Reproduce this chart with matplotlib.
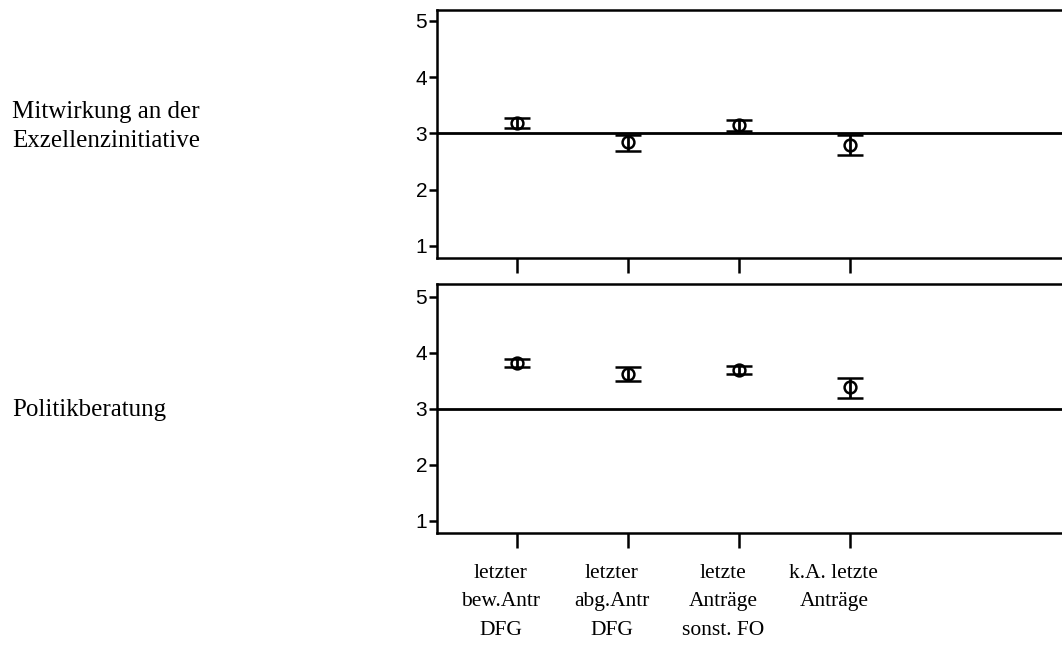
import numpy as np
import matplotlib
matplotlib.use('Agg')
import matplotlib.pyplot as plt
from matplotlib.transforms import ScaledTranslation

# ---- data ----
categories = ['letzter\nbew.Antr\nDFG', 'letzter\nabg.Antr\nDFG',
              'letzte\nAnträge\nsonst. FO', 'k.A. letzte\nAnträge']
row_labels = ['Mitwirkung an der\nExzellenzinitiative', 'Politikberatung']

exz_mean = [3.18, 2.84, 3.15, 2.80]
exz_lo   = [3.09, 2.69, 3.05, 2.61]
exz_hi   = [3.27, 2.97, 3.24, 2.97]

pol_mean = [3.82, 3.62, 3.70, 3.38]
pol_lo   = [3.74, 3.50, 3.62, 3.20]
pol_hi   = [3.89, 3.74, 3.77, 3.55]

yticks   = [1, 2, 3, 4, 5]
ref_line = 3

W, H = 1062, 646
fig = plt.figure(figsize=(W/100, H/100), dpi=100)

serif = ['Liberation Serif', 'DejaVu Serif']
x = np.arange(len(categories))

def panel(rect, mean, lo, hi, ylim, show_labels):
    ax = fig.add_axes(rect)
    mean = np.array(mean); lo = np.array(lo); hi = np.array(hi)
    ax.axhline(ref_line, color='k', lw=2, zorder=1)
    ax.errorbar(x, mean, yerr=[mean - lo, hi - mean], fmt='o', ms=8.5,
                mfc='none', mec='k', mew=1.8, ecolor='k', elinewidth=2,
                capsize=9.7, capthick=2, zorder=3)
    ax.set_xlim(-0.718, 4.91)
    ax.set_ylim(*ylim)
    ax.set_yticks(yticks)
    ax.set_xticks(x)
    for s in ['left', 'bottom', 'top']:
        ax.spines[s].set_linewidth(1.8)
    ax.spines['right'].set_visible(False)
    ax.tick_params(axis='y', length=6, width=1.8, labelsize=15, pad=1)
    ax.tick_params(axis='x', length=11, width=1.8, pad=11)
    for t in ax.get_yticklabels():
        t.set_fontfamily(['Liberation Sans', 'DejaVu Sans'])
    if show_labels:
        ax.set_xticklabels(categories, fontsize=15.5, family=serif)
        off = ScaledTranslation(-16/100, 0, fig.dpi_scale_trans)
        for t in ax.get_xticklabels():
            t.set_linespacing(1.68)
            t.set_transform(t.get_transform() + off)
    else:
        ax.set_xticklabels([])
    return ax

panel([437/W, 1 - 258/H, 1 - 437/W, 248.5/H], exz_mean, exz_lo, exz_hi,
      (0.786, 5.204), False)
panel([437/W, 1 - 533.3/H, 1 - 437/W, 248.8/H], pol_mean, pol_lo, pol_hi,
      (0.775, 5.218), True)

fig.text(12/W, 1 - 126.7/H, row_labels[0], fontsize=18, family=serif,
         va='center', ha='left', linespacing=1.4)
fig.text(12/W, 1 - 410/H, row_labels[1], fontsize=18, family=serif,
         va='center', ha='left')

fig.savefig('out.png', dpi=100)
